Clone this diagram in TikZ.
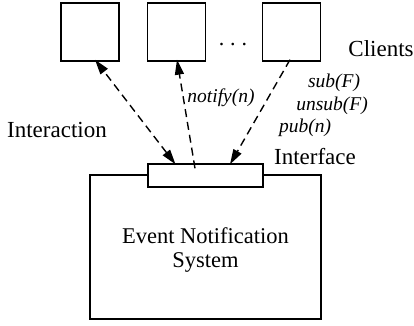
\documentclass[tikz,border=0pt]{standalone}
\usepackage{fontspec}
\setmainfont{Liberation Serif}
\usetikzlibrary{arrows.meta}
\tikzset{mytip/.tip={Stealth[length=15pt,width=9pt,inset=0pt]}}
\begin{document}
\begin{tikzpicture}[x=1pt,y=-1pt,
  box/.style={draw,line width=1.4pt,inner sep=0pt},
  client/.style={box,minimum width=58pt,minimum height=58pt},
  lbl/.style={inner sep=0pt,font=\fontsize{23}{26}\selectfont},
  ilbl/.style={inner sep=0pt,font=\fontsize{19.5}{22}\selectfont\itshape},
  conn/.style={line width=1.4pt,dash pattern=on 8pt off 5pt,-mytip}]
\useasboundingbox (0,0) rectangle (414,325);
\node[client] (c1) at (90,32) {};
\node[client] (c2) at (176.5,32) {};
\node[client] (c3) at (291.5,32) {};
\node[inner sep=0pt,anchor=base,font=\fontsize{22}{24}\selectfont] (dots) at (233,45) {.\hspace{6pt}.\hspace{6pt}.};
\node[box,minimum width=231pt,minimum height=144pt] (ens) at (205.5,247) {};
\node[box,fill=white,minimum width=115pt,minimum height=23pt] (if) at (205.5,175.5) {};
\node[lbl,align=center,font=\fontsize{22.5}{24}\selectfont] (enst) at (205.5,250) {Event Notification\\System};
\node[lbl] (clients) at (381,49) {Clients};
\node[lbl] (interaction) at (57,130) {Interaction};
\node[lbl] (interface) at (315,157) {Interface};
\node[ilbl] (notify) at (221,98) {notify(n)};
\node[ilbl] (sub) at (334,83) {sub(F)};
\node[ilbl] (unsub) at (332,106) {unsub(F)};
\node[ilbl] (pub) at (305,128) {pub(n)};
\draw[conn,mytip-mytip] ([xshift=-30pt,yshift=-1pt]if.north) -- ([xshift=5pt,yshift=2pt]c1.south);
\draw[conn] ([xshift=-10.5pt,yshift=-5pt]if.north) -- ([xshift=0.5pt,yshift=2pt]c2.south);
\draw[conn] ([xshift=-1.5pt,yshift=2pt]c3.south) -- ([xshift=24.5pt,yshift=-1pt]if.north);
\end{tikzpicture}
\end{document}
